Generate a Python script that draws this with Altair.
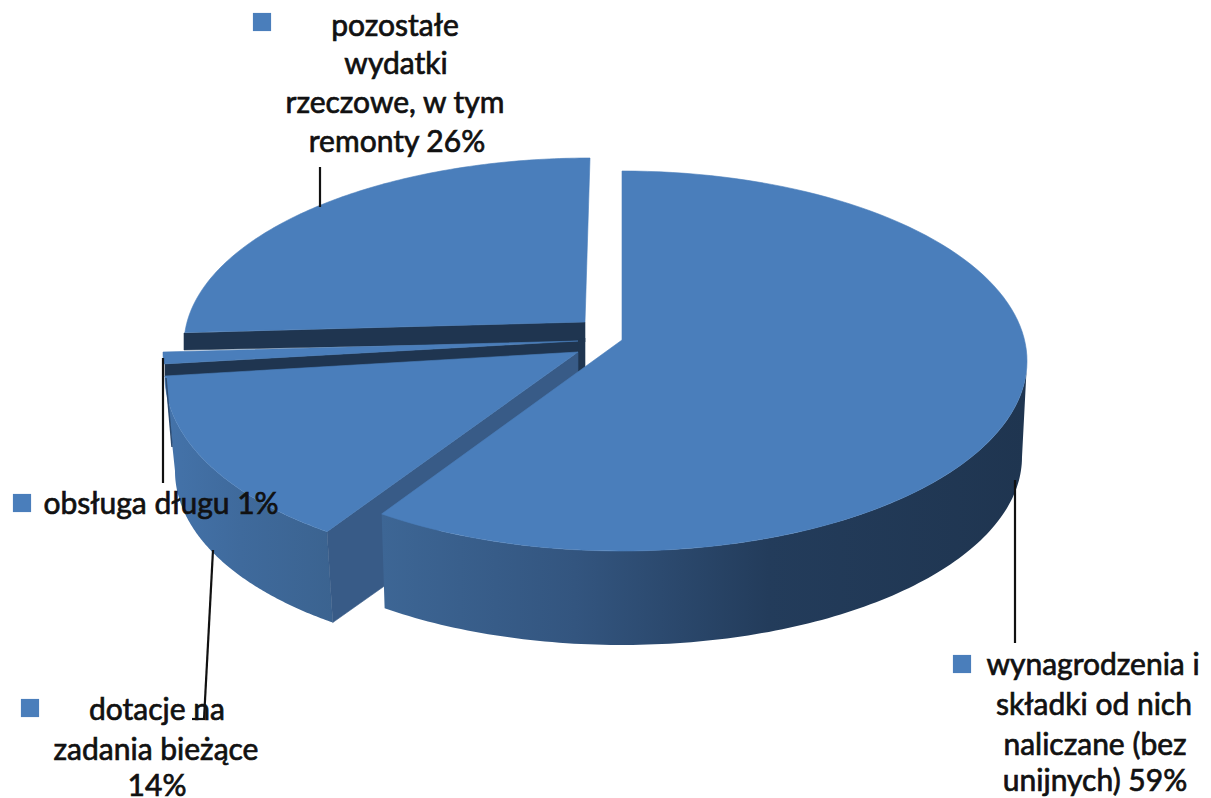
import math
import altair as alt

categories = ["wynagrodzenia", "dotacje", "obsluga", "pozostale"]
shares = [59, 14, 1, 26]
# Angle offsets (deg) from the 3-D perspective, start and end of each slice
shift_start = [0, 2.6, 3.6, 7.4]
shift_end = [4, 7.2, 3.6, 0]
# apex, top ellipse (cx, cy, rx, ry), bottom ellipse (cx, cy, rx, ry)
apex = [(622, 340), (578, 352), (578, 341), (585, 322)]
top_ell = [(622, 361, 405, 190), (545, 376, 380, 190), (545, 352, 382, 190), (590, 345, 406, 187)]
bot_ell = [(622, 457, 400, 188), (545, 471, 370, 185)]

TOP = "#4a7ebb"
DARK = "#1f3550"
FACE = "#385b87"

cum = [sum(shares[:i]) for i in range(len(shares) + 1)]
starts = [cum[i] * 3.6 + shift_start[i] for i in range(4)]
ends = [cum[i + 1] * 3.6 + shift_end[i] for i in range(4)]


def arc(e, a0, a1, n=120):
    cx, cy, rx, ry = e
    out = []
    for k in range(n + 1):
        t = math.radians(a0 + (a1 - a0) * k / n)
        out.append([cx + rx * math.sin(t), cy - ry * math.cos(t)])
    return out


def feature(points, fill):
    ring = [list(p) for p in points]
    ring.append(ring[0])
    return {"type": "Feature", "properties": {"fill": fill},
            "geometry": {"type": "Polygon", "coordinates": [ring]}}


proj = dict(type="identity", scale=1, translate=[-8, -8])


def solid(feats):
    return (alt.Chart(alt.Data(values=feats)).mark_geoshape(strokeWidth=0.6)
            .encode(color=alt.Color("properties.fill:N", scale=None),
                    stroke=alt.Stroke("properties.fill:N", scale=None))
            .project(**proj))


def grad(feat, stops):
    g = alt.Gradient(gradient="linear", x1=0, x2=1, y1=0, y2=0,
                     stops=[alt.GradientStop(color=c, offset=o) for o, c in stops])
    return (alt.Chart(alt.Data(values=[feat])).mark_geoshape(fill=g, strokeWidth=0)
            .project(**proj))


# slice 4: dark cut face and top
s4_face = feature([(184, 333), (585, 322), (585, 342), (184, 350)], DARK)
s4_top = feature([apex[3]] + arc(top_ell[3], starts[3], ends[3]), TOP)
# slice 3: cut face and top, with the dark inner edge by the centre
s3_face = feature([(165, 364), (165, 377), (578, 353), (578, 341)], DARK)
s3_edge = feature([(576, 340), (585, 338), (585, 368), (576, 374)], DARK)
s3_top = feature([apex[2]] + arc(top_ell[2], starts[2], ends[2]), TOP)
# slice 2: outer wall, cut face, top
s2_arc_top = arc(top_ell[1], starts[1], ends[1])
s2_arc_bot = arc(bot_ell[1], ends[1], starts[1])
s2_wall = feature(s2_arc_top + s2_arc_bot, FACE)
s2_face = feature([apex[1], s2_arc_top[0], s2_arc_bot[-1], (400, 575), (578, 372)], FACE)
s2_top = feature([apex[1]] + s2_arc_top, TOP)
# slice 1: outer wall and top
s1_wall = feature(arc(top_ell[0], 90, ends[0]) + arc(bot_ell[0], ends[0], 90), DARK)
s1_top = feature([apex[0]] + arc(top_ell[0], starts[0], ends[0]), TOP)

layers = [
    solid([s4_face, s4_top]),
    grad(s2_wall, [(0, "#4473aa"), (0.45, "#3f6a9c"), (1, "#3b6390")]),
    solid([s3_edge, s3_face, s3_top, s2_face, s2_top]),
    grad(s1_wall, [(0, "#3d6695"), (0.3, "#33557f"), (0.6, "#233c5b"), (1, "#1f3550")]),
    solid([s1_top]),
]

# leader lines
line_x = [1015, 320, 163, 213, 192, 166]
line_y = [480, 167, 358, 550, 719, 378]
line_x2 = [1015, 320, 163, 204, 205, 172]
line_y2 = [643, 207, 483, 719, 719, 447]
line_w = [2.2, 2.2, 2.2, 2.2, 2.2, 1.5]
line_c = ["#111111"] * 5 + ["#2b4a70"]
lines = [dict(x=a, y=b, x2=c, y2=d, w=w, c=col)
         for a, b, c, d, w, col in zip(line_x, line_y, line_x2, line_y2, line_w, line_c)]

X = alt.Scale(domain=[8, 1203], range=[0, 1195])
Y = alt.Scale(domain=[8, 798], range=[0, 790])

rules = alt.Chart(alt.Data(values=lines)).mark_rule().encode(
    x=alt.X("x:Q", scale=X, axis=None), x2="x2:Q",
    y=alt.Y("y:Q", scale=Y, axis=None), y2="y2:Q",
    strokeWidth=alt.StrokeWidth("w:Q", scale=None),
    color=alt.Color("c:N", scale=None))

# legend keys
key_x = [962, 30, 22, 262]
key_y = [664, 708, 503, 22]
keys = alt.Chart(alt.Data(values=[dict(x=a, y=b) for a, b in zip(key_x, key_y)])).mark_square(
    size=330, color=TOP, opacity=1).encode(
    x=alt.X("x:Q", scale=X, axis=None), y=alt.Y("y:Q", scale=Y, axis=None))

# labels
label_text = ["wynagrodzenia i", "składki od nich", "naliczane (bez", "unijnych) 59%",
              "dotacje na", "zadania bieżące", "14%",
              "obsługa długu 1%",
              "pozostałe", "wydatki", "rzeczowe, w tym", "remonty 26%"]
label_x = [1093, 1094, 1095, 1095, 157, 156, 157, 161, 395, 396, 395, 397]
label_y = [675, 715, 755, 791, 720, 760, 796, 514, 36, 74, 113, 152]
labels = alt.Chart(alt.Data(values=[dict(t=t, x=a, y=b) for t, a, b in zip(label_text, label_x, label_y)])).mark_text(
    font="Lato", fontSize=30, color="#111111", stroke="#111111", strokeWidth=0.7,
    align="center", baseline="alphabetic").encode(
    x=alt.X("x:Q", scale=X, axis=None), y=alt.Y("y:Q", scale=Y, axis=None), text="t:N")

chart = alt.layer(*layers, rules, keys, labels).properties(
    width=1195, height=790, padding=0, autosize=alt.AutoSizeParams(type="none"),
    background="white"
).configure_view(stroke=None)

chart.save("out.html", embed_options={"renderer": "svg", "actions": False})
